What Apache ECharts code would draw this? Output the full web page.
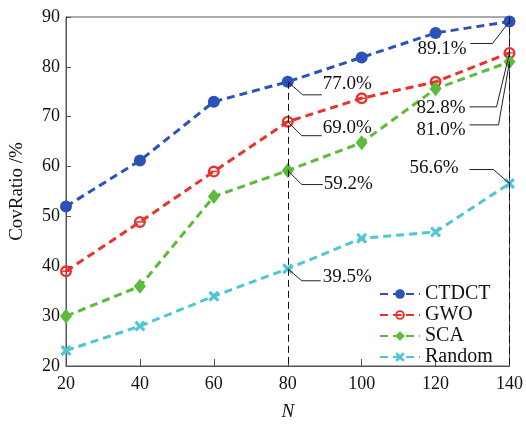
<!DOCTYPE html>
<html>
<head>
<meta charset="utf-8">
<script src="https://cdn.jsdelivr.net/npm/echarts@6/dist/echarts.min.js"></script>
<style>
  html, body { margin: 0; padding: 0; background: #fff; }
  #chart { width: 526px; height: 426px; }
</style>
</head>
<body>
<div id="chart"></div>
<script>
// 横轴 N
const nValues = [20, 40, 60, 80, 100, 120, 140]
// 各算法覆盖率 (%)
const ctdct = [52.0, 61.2, 73.0, 77.0, 81.9, 86.8, 89.1]
const gwo = [39.0, 48.9, 59.0, 69.0, 73.7, 77.0, 82.8]
const sca = [30.0, 36.0, 54.0, 59.2, 64.8, 75.6, 81.0]
const random = [23.1, 28.0, 34.0, 39.5, 45.6, 46.9, 56.6]
const seriesNames = ['CTDCT', 'GWO', 'SCA', 'Random']
// 标注点: [系列序号, 数据下标]
const annPoints = [[0, 3], [1, 3], [2, 3], [3, 3], [0, 6], [1, 6], [2, 6], [3, 6]]
// 竖直虚线位置
const guideX = [80, 140]

// 标注引线的像素偏移: [拐点dx, 拐点dy, 终点dx, 文字dx, 文字dy]
const annOffsets = [
  [15, 13, 34, 1, -11],
  [14, 14, 34, 1, -8],
  [14, 14, 35, 1, -1],
  [14, 12, 33, 2, -4],
  [-17, 22, -39, -4, 6],
  [-13, 54, -40, -4, 1],
  [-11, 63, -40, -4, 5],
  [-16, -14, -40, -11, -2]
]

const allSeries = [ctdct, gwo, sca, random]
const colors = ['#2a52b8', '#e8322b', '#5cbb3a', '#4ec6d6']
const serif = '"Liberation Serif", "DejaVu Serif", serif'
const ringPath = 'path://M5,0 A5,5 0 1,1 5,10 A5,5 0 1,1 5,0 Z M5,2 A3,3 0 1,0 5,8 A3,3 0 1,0 5,2 Z M2.2,4.4 L7.8,4.4 L7.8,5.6 L2.2,5.6 Z'
const crossPath = 'path://M2,0 L5,3 L8,0 L10,2 L7,5 L10,8 L8,10 L5,7 L2,10 L0,8 L3,5 L0,2 Z'
const symbols = ['circle', ringPath, 'diamond', crossPath]
const symbolSizes = [12, 12, [12, 15], 11]

const annData = annPoints.map(([s, i]) => [nValues[i], allSeries[s][i], allSeries[s][i].toFixed(1) + '%'])

const chart = echarts.init(document.getElementById('chart'))

const lineSeries = allSeries.map((vals, k) => ({
  name: seriesNames[k],
  type: 'line',
  data: nValues.map((n, i) => [n, vals[i]]),
  symbol: symbols[k],
  symbolSize: symbolSizes[k],
  showAllSymbol: true,
  z: 3,
  lineStyle: { color: colors[k], width: 3, type: [8, 5] },
  itemStyle: { color: colors[k] }
}))

// 竖直虚线
lineSeries[0].markLine = {
  silent: true,
  symbol: 'none',
  label: { show: false },
  lineStyle: { color: '#111', width: 1, type: [7, 4] },
  data: [
    [{ coord: [guideX[0], ctdct[3]] }, { coord: [guideX[0], 20] }],
    [{ coord: [guideX[1], 90] }, { coord: [guideX[1], 20] }]
  ]
}

const annSeries = {
  type: 'custom',
  coordinateSystem: 'cartesian2d',
  silent: true,
  clip: false,
  z: 5,
  data: annData,
  encode: { x: 0, y: 1 },
  renderItem (params, api) {
    const p = api.coord([api.value(0), api.value(1)])
    const o = annOffsets[params.dataIndex]
    const ey = p[1] + o[1]
    const endX = p[0] + o[2]
    return {
      type: 'group',
      children: [
        {
          type: 'polyline',
          shape: { points: [p, [p[0] + o[0], ey], [endX, ey]] },
          style: { stroke: '#222', lineWidth: 1, fill: null }
        },
        {
          type: 'text',
          style: {
            text: annData[params.dataIndex][2],
            x: endX + o[3],
            y: ey + o[4],
            align: o[2] > 0 ? 'left' : 'right',
            verticalAlign: 'middle',
            font: '19px ' + serif,
            fill: '#111'
          }
        }
      ]
    }
  }
}

const option = {
  animation: false,
  backgroundColor: '#fff',
  grid: { left: 64, right: 13, top: 17, bottom: 51, show: true, borderColor: '#555', borderWidth: 1 },
  legend: {
    data: seriesNames,
    orient: 'vertical',
    left: 374,
    top: 279,
    itemWidth: 40,
    itemHeight: 12,
    itemGap: 1,
    textStyle: { fontFamily: serif, fontSize: 20, color: '#111' }
  },
  xAxis: {
    type: 'value',
    min: 20,
    max: 140,
    interval: 20,
    name: 'N',
    nameLocation: 'middle',
    nameGap: 36,
    nameTextStyle: { fontFamily: serif, fontSize: 19, fontStyle: 'italic', color: '#111' },
    axisLine: { lineStyle: { color: '#555' } },
    axisTick: { inside: true, length: 7, lineStyle: { color: '#555' } },
    axisLabel: { fontFamily: serif, fontSize: 18, color: '#111', margin: 9 },
    splitLine: { show: false }
  },
  yAxis: {
    type: 'value',
    min: 20,
    max: 90,
    interval: 10,
    name: 'CovRatio /%',
    nameLocation: 'middle',
    nameGap: 39,
    nameTextStyle: { fontFamily: serif, fontSize: 19, color: '#111' },
    axisLine: { show: true, lineStyle: { color: '#555' } },
    axisTick: { show: true, inside: true, length: 5, lineStyle: { color: '#555' } },
    axisLabel: { fontFamily: serif, fontSize: 18, color: '#111', margin: 6 },
    splitLine: { show: false }
  },
  series: [...lineSeries, annSeries]
}

chart.setOption(option)
</script>
</body>
</html>
